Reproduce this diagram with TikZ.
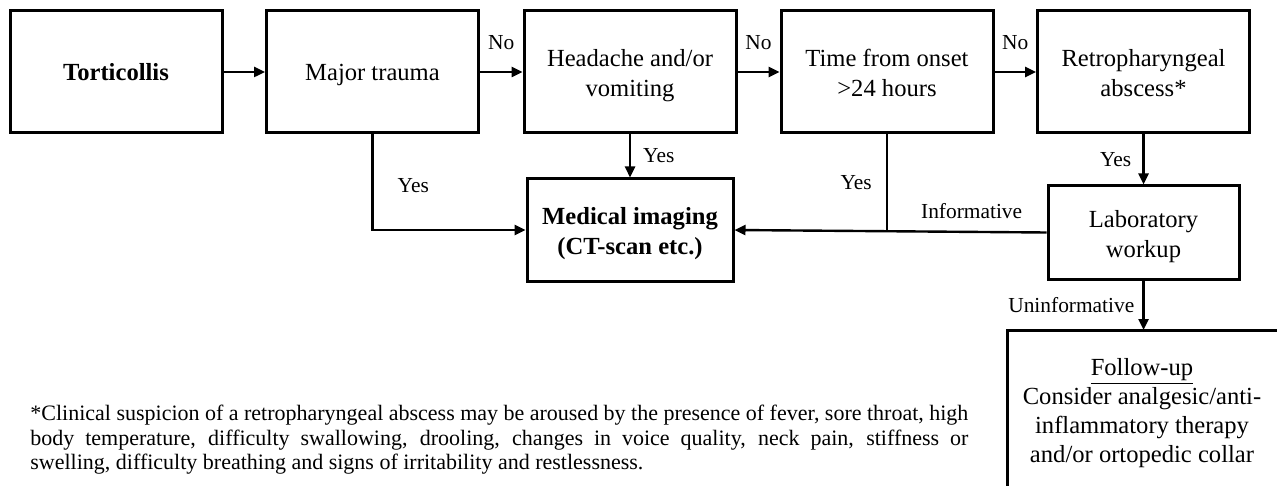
\documentclass[tikz,border=0pt]{standalone}
\usepackage{fontspec}
\setmainfont{Liberation Serif}
\usetikzlibrary{arrows.meta}
\newcommand{\boxfont}{\fontsize{12.3}{15}\selectfont}
\newcommand{\lblfont}{\fontsize{10.7}{12}\selectfont}
\newcommand{\tb}[2][0pt]{\raisebox{-#1}[\height][\depth]{\begin{tabular}{@{}c@{}}#2\end{tabular}}}
\begin{document}
\begin{tikzpicture}[x=0.5pt,y=-0.5pt,
  box/.style={draw,line width=1.5pt,minimum width=106pt,minimum height=61pt,font=\boxfont,inner sep=0pt},
  conn/.style={line width=1.2pt,-{Triangle[length=5.5pt,width=5pt]}},
  plain/.style={line width=1.2pt},
  lbl/.style={font=\lblfont,inner sep=0pt}]
\useasboundingbox (0,0) rectangle (1277,486);
\fill[white] (0,0) rectangle (1277,486);

% top row
\node[box,font=\boxfont\bfseries] (tort) at (116,72) {\tb[1.5pt]{Torticollis}};
\node[box] (major) at (372.5,72) {\tb[1.5pt]{Major trauma}};
\node[box] (head) at (630,72) {\tb[2pt]{Headache and/or\\vomiting}};
\node[box] (time) at (887,72) {\tb[2pt]{Time from onset\\>24 hours}};
\node[box] (retro) at (1143.5,72) {\tb[2pt]{Retropharyngeal\\abscess*}};

% second row
\node[box,font=\boxfont\bfseries,minimum width=103pt,minimum height=51pt] (med) at (630,230) {\tb[1.75pt]{Medical imaging\\(CT-scan etc.)}};
\node[box,minimum width=95.5pt,minimum height=46.5pt] (lab) at (1143.5,232.5) {\tb[2.2pt]{Laboratory\\workup}};

% follow-up box (cut off by the picture edge)
\begin{scope}
  \clip (0,0) rectangle (1277,486);
  \draw[line width=1.5pt] (1007,520) -- (1007,330) -- (1300,330);
\end{scope}
\coordinate (fu) at (1143.5,330);
\node[align=center,font=\fontsize{12.3}{14.5}\selectfont,inner sep=0pt] (futext) at (1142,413)
  {\underline{Follow-up}\\Consider analgesic/anti-\\inflammatory therapy\\and/or ortopedic collar};

% connectors
\draw[conn] (tort) -- (major);
\draw[conn] (major) -- node[lbl,midway,above=10.5pt]{No} (head);
\draw[conn] (head) -- node[lbl,midway,above=10.5pt]{No} (time);
\draw[conn] (time) -- node[lbl,midway,above=10.5pt]{No} (retro);

\draw[conn] (major.south) |- node[lbl,pos=0.27,right=12pt]{Yes} (med.west);
\draw[conn] (head.south) -- node[lbl,midway,right=6pt]{Yes} (med.north);
\draw[plain] (time.south) -- node[lbl,midway,left=7pt]{Yes} (time.south |- med.east);
\draw[conn] (retro.south) -- node[lbl,midway,left=5.5pt]{Yes} (lab.north);
\draw[conn] (lab.west) -- node[lbl,pos=0.24,above=6pt]{Informative} (med.east);
\draw[conn] (lab.south) -- node[lbl,midway,left=4pt]{Uninformative} (fu);

% footnote
\node[anchor=west,inner sep=0pt,align=left,font=\fontsize{11}{12.25}\selectfont] (note) at (30,440)
  {\hbox to 469pt{*Clinical suspicion of a retropharyngeal abscess may be aroused by the presence of fever, sore throat, high}\\
   \hbox to 469pt{body temperature, difficulty swallowing, drooling, changes in voice quality, neck pain, stiffness or}\\
   swelling, difficulty breathing and signs of irritability and restlessness.};
\end{tikzpicture}
\end{document}
